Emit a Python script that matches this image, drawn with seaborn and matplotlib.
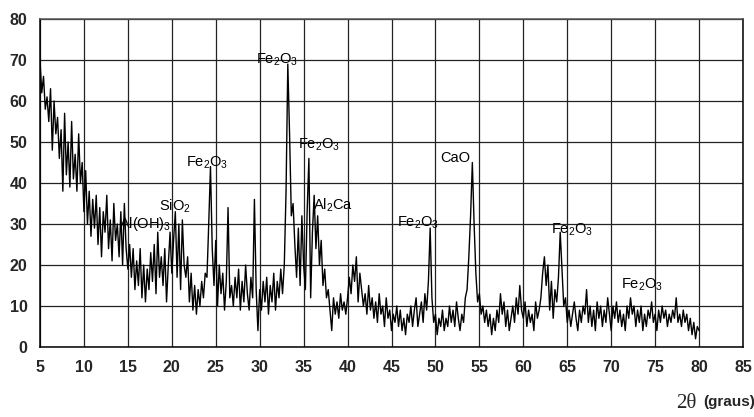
import numpy as np
import pandas as pd
import matplotlib
matplotlib.use("Agg")
import matplotlib.pyplot as plt
import seaborn as sns
from matplotlib.ticker import MultipleLocator

# Diffraction angle grid: 5.0 to 80.0 degrees in 0.2 degree steps
two_theta_start = 5.0
two_theta_step = 0.2

# Measured counts, one row of five readings per degree of 2-theta
counts_05_15 = [
    70, 62, 66, 58, 61,
    55, 63, 48, 60, 52,
    56, 46, 53, 38, 57,
    42, 50, 39, 55, 41,
    47, 38, 52, 40, 45,
    33, 43, 30, 38, 27,
    36, 29, 37, 25, 34,
    22, 33, 28, 37, 24,
    31, 21, 35, 26, 30,
    22, 33, 20, 35, 24,
]
counts_15_25 = [
    19, 25, 17, 24, 14,
    21, 15, 24, 12, 20,
    11, 19, 14, 23, 16,
    25, 13, 28, 17, 22,
    15, 24, 11, 20, 28,
    18, 26, 33, 17, 30,
    14, 31, 20, 17, 22,
    11, 18, 9, 15, 8,
    14, 10, 16, 12, 18,
    17, 30, 44, 24, 15,
]
counts_25_35 = [
    26, 10, 20, 13, 18,
    9, 16, 34, 12, 15,
    10, 17, 12, 19, 9,
    16, 11, 20, 13, 9,
    17, 12, 36, 14, 4,
    14, 9, 16, 11, 17,
    8, 15, 11, 18, 9,
    16, 12, 19, 13, 20,
    38, 69, 52, 32, 35,
    25, 17, 29, 15, 32,
]
counts_35_45 = [
    20, 14, 33, 46, 12,
    28, 37, 24, 32, 20,
    26, 15, 19, 12, 14,
    9, 4, 12, 8, 11,
    7, 13, 9, 11, 8,
    12, 17, 13, 20, 16,
    22, 11, 18, 14, 10,
    13, 8, 15, 9, 12,
    7, 11, 6, 13, 8,
    10, 5, 12, 7, 9,
]
counts_45_55 = [
    4, 8, 6, 10, 5,
    9, 4, 7, 3, 8,
    6, 10, 5, 9, 12,
    5, 8, 11, 6, 13,
    9, 16, 29, 12, 6,
    8, 3, 7, 5, 9,
    4, 7, 5, 10, 6,
    9, 5, 11, 7, 4,
    8, 6, 12, 14, 22,
    32, 45, 30, 18, 11,
]
counts_55_65 = [
    13, 8, 10, 6, 9,
    5, 8, 3, 7, 4,
    9, 6, 13, 8, 11,
    5, 9, 4, 7, 10,
    6, 12, 8, 15, 9,
    7, 11, 5, 9, 6,
    8, 4, 11, 7, 9,
    12, 18, 22, 15, 20,
    9, 16, 7, 14, 11,
    17, 28, 19, 10, 12,
]
counts_65_80 = [
    6, 9, 5, 8, 11,
    7, 4, 9, 6, 10,
    8, 14, 6, 10, 5,
    9, 4, 11, 7, 10,
    5, 9, 6, 12, 8,
    4, 10, 7, 11, 6,
    9, 5, 8, 4, 10,
    7, 12, 8, 10, 5,
    9, 6, 10, 4, 8,
    5, 9, 7, 11, 6,
    8, 4, 9, 6, 10,
    7, 9, 5, 8, 6,
    9, 7, 12, 6, 8,
    5, 9, 6, 8, 4,
    7, 3, 6, 2, 5,
    4,
]

# Phase annotations: label, x, y (centre of the text)
phase_labels = ["Al(OH)$_3$", "SiO$_2$", "Fe$_2$O$_3$", "Fe$_2$O$_3$", "Fe$_2$O$_3$",
                "Al$_2$Ca", "Fe$_2$O$_3$", "CaO", "Fe$_2$O$_3$", "Fe$_2$O$_3$"]
phase_x = [17.0, 20.3, 24.0, 32.0, 36.7, 38.3, 48.0, 52.3, 65.5, 73.5]
phase_y = [30.0, 34.2, 44.9, 70.0, 49.3, 34.6, 30.2, 46.0, 28.5, 15.1]

x_ticks = list(range(5, 90, 5))
y_ticks = list(range(0, 90, 10))

counts = (counts_05_15 + counts_15_25 + counts_25_35 + counts_35_45
          + counts_45_55 + counts_55_65 + counts_65_80)
two_theta = two_theta_start + two_theta_step * np.arange(len(counts))
df = pd.DataFrame({"two_theta": two_theta, "counts": counts})

sns.set_style("white")
plt.rcParams["font.family"] = ["Liberation Sans", "DejaVu Sans"]
plt.rcParams["mathtext.fontset"] = "custom"
plt.rcParams["mathtext.rm"] = "Liberation Sans"
plt.rcParams["mathtext.it"] = "Liberation Sans:italic"

fig = plt.figure(figsize=(7.54, 4.17), dpi=100)
ax = fig.add_axes([40 / 754, 70 / 417, 703 / 754, 328 / 417])

sns.lineplot(data=df, x="two_theta", y="counts", ax=ax, color="black",
             linewidth=1.0, estimator=None, sort=False)

ax.set_xlim(5, 85)
ax.set_ylim(0, 80)
ax.set_xticks(x_ticks)
ax.set_yticks(y_ticks)
ax.xaxis.set_minor_locator(MultipleLocator(1))
ax.yaxis.set_minor_locator(MultipleLocator(2))
ax.grid(True, which="major", color="#222222", linewidth=0.9)
ax.set_axisbelow(True)
for side in ax.spines.values():
    side.set_color("black")
    side.set_linewidth(1.1)
ax.spines["top"].set_color("#555555")

ax.tick_params(which="major", direction="out", length=5, width=1, color="black",
               labelsize=11.5, pad=4)
ax.tick_params(which="minor", direction="out", length=3, width=0.8, color="black")
for lab in ax.get_xticklabels() + ax.get_yticklabels():
    lab.set_fontweight("bold")
    lab.set_family(["Liberation Sans Narrow", "Liberation Sans"])
ax.set_xlabel("")
ax.set_ylabel("")

for lab, lx, ly in zip(phase_labels, phase_x, phase_y):
    ax.text(lx, ly, lab, ha="center", va="center", fontsize=10.5, color="black")

fig.text(686 / 754, 1 - 404 / 417, "2θ", ha="center", va="center",
         fontsize=15, family=["Liberation Serif", "DejaVu Serif"])
fig.text(729 / 754, 1 - 402 / 417, "(graus)", ha="center", va="center",
         fontsize=11, fontweight="bold")

fig.savefig("out.png", dpi=100, facecolor="white")
